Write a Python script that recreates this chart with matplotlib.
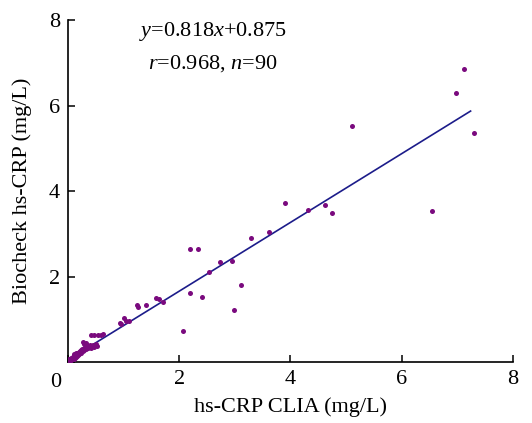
import matplotlib
matplotlib.use('Agg')
import matplotlib.pyplot as plt
import numpy as np

# global style
plt.rcParams['font.family'] = ['Liberation Serif', 'DejaVu Serif']
plt.rcParams['mathtext.fontset'] = 'custom'
plt.rcParams['mathtext.rm'] = 'Liberation Serif'
plt.rcParams['mathtext.it'] = 'Liberation Serif:italic'

# hs-CRP by CLIA (x) vs Biocheck (y), mg/L
clia = [7.12, 6.97, 5.11, 7.31, 6.55,
        4.31, 4.62, 4.75, 3.29, 3.62, 3.90,
        2.19, 2.33, 2.53, 2.73, 2.94, 2.20, 2.40, 3.11, 2.98, 2.07,
        1.25, 1.24, 1.40, 1.59, 1.64, 1.70,
        1.00, 0.96, 1.05, 1.10, 0.93,
        0.54, 0.59, 0.62, 0.42, 0.46,
        0.02, 0.03, 0.04, 0.05, 0.06, 0.07, 0.08, 0.09, 0.10, 0.11,
        0.12, 0.13, 0.14, 0.15, 0.16, 0.17, 0.18, 0.19, 0.20, 0.21,
        0.22, 0.23, 0.24, 0.25, 0.26, 0.27, 0.28, 0.29, 0.30, 0.31,
        0.33, 0.33, 0.35, 0.36, 0.38, 0.39, 0.41, 0.43, 0.45, 0.47,
        0.50, 0.52, 0.01, 0.03, 0.05, 0.08, 0.11, 0.14, 0.18, 0.22,
        0.00, 0.01, 0.02]
biocheck = [6.85, 6.30, 5.53, 5.36, 3.53,
            3.56, 3.68, 3.49, 2.91, 3.04, 3.72,
            2.64, 2.64, 2.11, 2.33, 2.37, 1.61, 1.52, 1.80, 1.22, 0.73,
            1.28, 1.33, 1.34, 1.49, 1.47, 1.40,
            1.02, 0.90, 0.96, 0.96, 0.92,
            0.62, 0.62, 0.65, 0.62, 0.63,
            0.03, 0.05, 0.02, 0.07, 0.04, 0.09, 0.06, 0.12, 0.08, 0.14,
            0.10, 0.17, 0.12, 0.20, 0.15, 0.22, 0.16, 0.24, 0.18, 0.26,
            0.21, 0.28, 0.22, 0.30, 0.25, 0.46, 0.27, 0.42, 0.31, 0.34,
            0.44, 0.30, 0.38, 0.33, 0.36, 0.40, 0.32, 0.37, 0.40, 0.35,
            0.42, 0.38, 0.05, 0.08, 0.10, 0.11, 0.18, 0.19, 0.21, 0.24,
            0.02, 0.00, 0.06]

# fitted line as drawn
fit_x = [0.0, 7.24]
fit_y = [0.05, 5.87]

fig = plt.figure(figsize=(5.32, 4.23), dpi=100)
ax = fig.add_axes([0.128, 0.1442, 0.836, 0.8085])

ax.scatter(clia, biocheck, s=13, color='#7a0a7e', linewidths=0, zorder=3)
ax.plot(fit_x, fit_y, color='#1c1c8a', linewidth=1.2, zorder=2)

ax.set_xlim(0, 8)
ax.set_ylim(0, 8)
ax.set_xticks([0, 2, 4, 6, 8])
ax.set_yticks([0, 2, 4, 6, 8])
ax.set_xticklabels(['', '2', '4', '6', '8'])
ax.set_yticklabels(['', '2', '4', '6', '8'])
ax.tick_params(direction='in', length=5, width=1.1, labelsize=16, pad=6)
ax.annotate('0', xy=(0, 0), xytext=(-9, -15), textcoords='offset points',
            ha='center', va='center', fontsize=16, annotation_clip=False)

for side in ['top', 'right']:
    ax.spines[side].set_visible(False)
for side in ['left', 'bottom']:
    ax.spines[side].set_linewidth(1.2)

ax.set_xlabel('hs-CRP CLIA (mg/L)', fontsize=16, labelpad=6)
ax.set_ylabel('Biocheck hs-CRP (mg/L)', fontsize=16, labelpad=12)

ax.text(2.6, 7.74, r'$y$=0.818$x$+0.875', fontsize=16, ha='center', va='center')
ax.text(2.6, 6.98, r'$r$=0.968, $n$=90', fontsize=16, ha='center', va='center')

fig.savefig('out.png', dpi=100)
